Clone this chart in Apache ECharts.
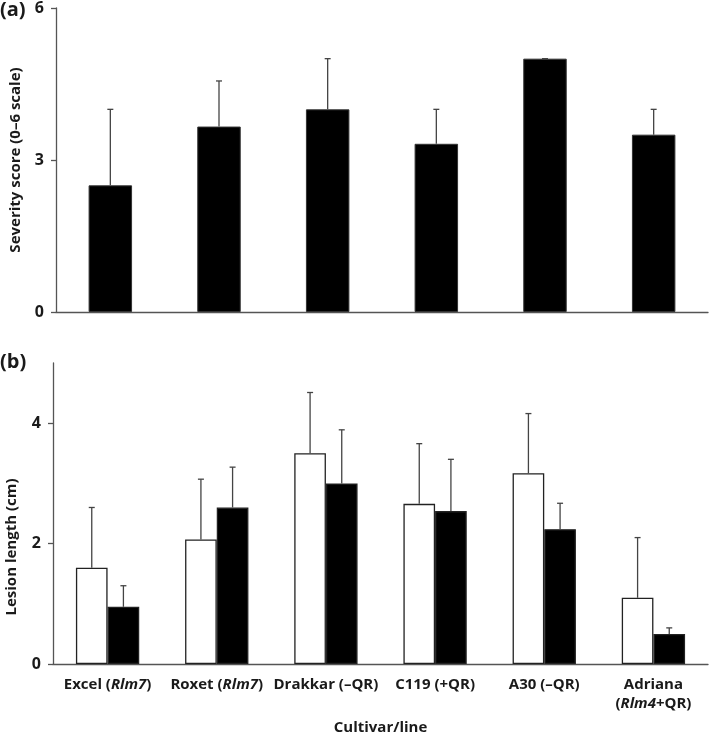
<!DOCTYPE html>
<html><head><meta charset="utf-8">
<script src="https://cdn.jsdelivr.net/npm/echarts@6/dist/echarts.min.js"></script>
<style>html,body{margin:0;padding:0;background:#fff}#c{width:709px;height:736px}</style>
</head><body><div id="c"></div>
<script>
const categories = ['Excel (Rlm7)', 'Roxet (Rlm7)', 'Drakkar (\u2013QR)', 'C119 (+QR)', 'A30 (\u2013QR)', 'Adriana (Rlm4+QR)'];
const severity = [2.5, 3.66, 4.0, 3.32, 5.0, 3.5];
const severityErr = [1.5, 0.9, 1.0, 0.68, 0.0, 0.5];
const lesionWhite = [1.60, 2.07, 3.50, 2.66, 3.17, 1.10];
const lesionWhiteErr = [1.00, 1.00, 1.01, 1.00, 0.99, 1.00];
const lesionBlack = [0.95, 2.60, 3.00, 2.54, 2.24, 0.50];
const lesionBlackErr = [0.35, 0.67, 0.89, 0.86, 0.43, 0.10];
const topTicks = [0, 3, 6];
const bottomTicks = [0, 2, 4];

const FONT = 'Open Sans';
const TXT = '#1a1a1a';
const AX = '#555';

function errSeries(xIdx, yIdx, vals, errs, offsetFrac, gapFrac, nBars) {
  return {
    type: 'custom', xAxisIndex: xIdx, yAxisIndex: yIdx, z: 5, silent: true,
    data: vals.map((v, i) => [i, v, v + errs[i]]),
    renderItem: function (params, api) {
      const i = api.value(0);
      const p0 = api.coord([i, api.value(1)]);
      const p1 = api.coord([i, api.value(2)]);
      const band = api.size([1, 0])[0];
      const bw = band * (1 - gapFrac) / nBars;
      const x = p0[0] + offsetFrac * bw;
      const st = { stroke: '#444', lineWidth: 1.3 };
      return { type: 'group', children: [
        { type: 'line', shape: { x1: x, y1: p0[1], x2: x, y2: p1[1] }, style: st },
        { type: 'line', shape: { x1: x - 3, y1: p1[1], x2: x + 3, y2: p1[1] }, style: st }
      ]};
    }
  };
}

const catLabel = {
  interval: 0, margin: 11, color: TXT, fontFamily: FONT, fontWeight: 'bold', fontSize: 15, lineHeight: 19,
  formatter: function (v) {
    if (v.indexOf('Adriana') === 0) return 'Adriana\n({i|Rlm4}+QR)';
    if (v.indexOf('(Rlm7)') > 0) return v.replace('(Rlm7)', '({i|Rlm7})');
    return v;
  },
  rich: { i: { fontStyle: 'italic', fontWeight: 'bold', fontFamily: FONT, fontSize: 15, color: TXT } }
};

const chart = echarts.init(document.getElementById('c'));
chart.setOption({
  animation: false,
  backgroundColor: '#fff',
  grid: [
    { left: 53, right: 1, top: 7, height: 305 },
    { left: 53, right: 1, top: 363, height: 308 }
  ],
  xAxis: [
    { type: 'category', gridIndex: 0, data: categories,
      axisLine: { lineStyle: { color: AX, width: 1.3 } },
      axisTick: { length: 5, lineStyle: { color: AX, width: 1.3 } },
      axisLabel: { show: false } },
    { type: 'category', gridIndex: 1, data: categories,
      axisLine: { lineStyle: { color: AX, width: 1.3 } },
      axisTick: { length: 5, lineStyle: { color: AX, width: 1.3 } },
      axisLabel: catLabel,
      name: 'Cultivar/line', nameLocation: 'middle', nameGap: 56,
      nameTextStyle: { color: TXT, fontFamily: FONT, fontWeight: 'bold', fontSize: 15 } }
  ],
  yAxis: [
    { type: 'value', gridIndex: 0, min: 0, max: 6, interval: 3,
      splitLine: { show: false },
      axisLine: { show: true, lineStyle: { color: AX, width: 1.3 } },
      axisTick: { show: true, length: 5, inside: false, lineStyle: { color: AX, width: 1.3 } },
      axisLabel: { margin: 12, color: TXT, fontFamily: FONT, fontWeight: 'bold', fontSize: 16,
        customValues: topTicks },
      name: 'Severity score (0\u20136 scale)', nameLocation: 'middle', nameGap: 33,
      nameTextStyle: { color: TXT, fontFamily: FONT, fontWeight: 'bold', fontSize: 15 } },
    { type: 'value', gridIndex: 1, min: 0, max: 5, interval: 2,
      splitLine: { show: false },
      axisLine: { show: true, lineStyle: { color: AX, width: 1.3 } },
      axisTick: { show: true, length: 5, lineStyle: { color: AX, width: 1.3 }, customValues: bottomTicks },
      axisLabel: { margin: 12, color: TXT, fontFamily: FONT, fontWeight: 'bold', fontSize: 16,
        customValues: bottomTicks } }
  ],
  graphic: [
    { type: 'text', left: 0, top: 0, style: { text: '(a)', fill: TXT, font: 'bold 20px "Open Sans"' } },
    { type: 'text', left: 0, top: 352, style: { text: '(b)', fill: TXT, font: 'bold 20px "Open Sans"' } },
    { type: 'text', x: 12, y: 547, rotation: Math.PI / 2,
      style: { text: 'Lesion length (cm)', fill: TXT, font: 'bold 15px "Open Sans"', align: 'center', verticalAlign: 'middle' } }
  ],
  series: [
    { type: 'bar', xAxisIndex: 0, yAxisIndex: 0, data: severity, barCategoryGap: '60%',
      itemStyle: { color: '#000', borderColor: '#333', borderWidth: 1 } },
    errSeries(0, 0, severity, severityErr, 0, 0.6, 1),
    { type: 'bar', xAxisIndex: 1, yAxisIndex: 1, data: lesionWhite, barGap: '0%', barCategoryGap: '42%',
      itemStyle: { color: '#fff', borderColor: '#222', borderWidth: 1.3 } },
    { type: 'bar', xAxisIndex: 1, yAxisIndex: 1, data: lesionBlack, barGap: '0%', barCategoryGap: '42%',
      itemStyle: { color: '#000', borderColor: '#222', borderWidth: 1.3 } },
    errSeries(1, 1, lesionWhite, lesionWhiteErr, -0.5, 0.42, 2),
    errSeries(1, 1, lesionBlack, lesionBlackErr, 0.5, 0.42, 2)
  ]
});
</script></body></html>
